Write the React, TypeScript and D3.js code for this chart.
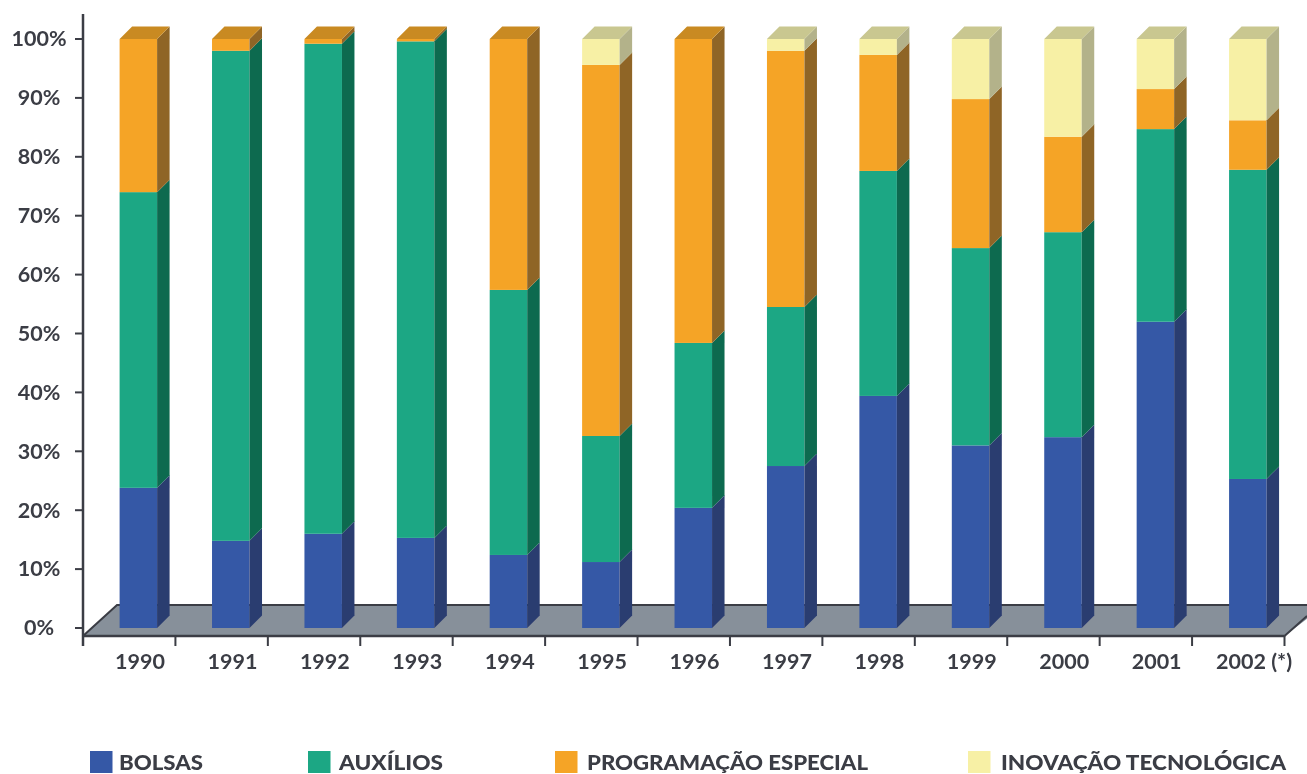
import React from "react";
import * as d3 from "d3";

const years = ["1990","1991","1992","1993","1994","1995","1996","1997","1998","1999","2000","2001","2002 (*)"];
const bolsas = [23.8,14.8,16.0,15.3,12.4,11.2,20.4,27.5,39.4,31.0,32.4,52.0,25.3];
const auxilios = [50.2,83.2,83.2,84.3,45.0,21.4,28.0,27.0,38.2,33.5,34.8,32.7,52.5];
const programacao = [26.0,2.0,0.8,0.4,42.6,63.0,51.6,43.5,19.7,25.3,16.2,6.8,8.4];
const inovacao = [0,0,0,0,0,4.4,0,2.0,2.7,10.2,16.6,8.5,13.8];
const seriesNames = ["BOLSAS","AUXÍLIOS","PROGRAMAÇÃO ESPECIAL","INOVAÇÃO TECNOLÓGICA"];
const seriesValues = [bolsas, auxilios, programacao, inovacao];
const front = ["#3658a6","#1ba784","#f5a427","#f7f0a5"];
const side = ["#2b3c70","#0f6b50","#8f6526","#b3b28a"];
const topc = ["#2b3c70","#0f6b50","#c98a22","#c9c790"];
const yTicks = [0,10,20,30,40,50,60,70,80,90,100];
const legendLayout = [[90,119,84],[308,339,104],[555,587,281],[968,1001,285]];

const W = 1307, H = 774, axisX = 83, axisRight = 1284.5, floorFront = 636, floorBack = 605, depth = 12.5;
const x = d3.scaleBand().domain(years).range([axisX, axisRight]);
const y = d3.scaleLinear().domain([0, 100]).range([628, 39]);
const barW = 37.5, barOff = 36.6;
const ink = "#3a3c44";
const font = "Lato, 'Open Sans', sans-serif";

export default function App() {
  const stacks = years.map((_, i) => {
    let acc = 0;
    return seriesValues.map((s, k) => {
      const y0 = acc; acc += s[i];
      return { k, y0, y1: acc, v: s[i] };
    });
  });
  return (
    <svg width={W} height={H} style={{ position: "absolute", left: 0, top: 0, background: "#fff" }}>
      <defs>
        <filter id="soft" x="-5%" y="-5%" width="110%" height="110%"><feGaussianBlur stdDeviation="0.65" /></filter>
      </defs>
      <g filter="url(#soft)">
        <path d={`M${axisX},${floorFront}L${axisX + 34},${floorBack}H${W + 5}V${floorBack + 10}L${axisRight},${floorFront}Z`} fill="#87909a" />
        <path d={`M${axisX},${floorFront}L${axisX + 34},${floorBack}H${W}`} fill="none" stroke={ink} strokeWidth={2} />
        <path d={`M${axisRight},${floorFront}L${W},${floorFront - 20}`} fill="none" stroke={ink} strokeWidth={2} />
        <path d={`M${axisX},14V${floorFront + 10}`} stroke={ink} strokeWidth={2.5} fill="none" />
        <path d={`M${axisX},${floorFront}H${axisRight}`} stroke={ink} strokeWidth={2.5} fill="none" />
        {yTicks.map(t => (
          <g key={t}>
            <line x1={axisX - 8} x2={axisX} y1={y(t)} y2={y(t)} stroke={ink} strokeWidth={2} />
            <text x={39} y={y(t)} dy="0.34em" textAnchor="middle" fontFamily={font} fontWeight={700} fontSize={21.5} fill={ink}>{t}%</text>
          </g>
        ))}
        {years.map(yr => (
          <line key={yr} x1={x(yr)! + x.bandwidth()} x2={x(yr)! + x.bandwidth()} y1={floorFront} y2={floorFront + 10} stroke={ink} strokeWidth={2} />
        ))}
        {years.map((yr, i) => {
          const bx = x(yr)! + barOff + (i > 3 ? 0.4 : 0);
          const segs = stacks[i].filter(s => s.v > 0);
          const last = segs[segs.length - 1];
          return (
            <g key={yr}>
              {segs.map(s => (
                <g key={s.k}>
                  <rect x={bx} y={y(s.y1)} width={barW} height={y(s.y0) - y(s.y1)} fill={front[s.k]} />
                  <path d={`M${bx + barW},${y(s.y0)}L${bx + barW + depth},${y(s.y0) - depth}V${y(s.y1) - depth}L${bx + barW},${y(s.y1)}Z`} fill={side[s.k]} />
                </g>
              ))}
              <path d={`M${bx},${y(100)}L${bx + depth},${y(100) - depth}H${bx + barW + depth}L${bx + barW},${y(100)}Z`} fill={topc[last.k]} />
            </g>
          );
        })}
        {years.map(yr => (
          <text key={yr} x={x(yr)! + (yr.length > 4 ? 62 : 57)} y={669} textAnchor="middle" fontFamily={font} fontWeight={700} fontSize={21.5} fill={ink}>{yr}</text>
        ))}
        {seriesNames.map((n, k) => (
          <g key={n}>
            <rect x={legendLayout[k][0]} y={751} width={22.5} height={22} fill={front[k]} />
            <text x={legendLayout[k][1]} y={769.5} fontFamily={font} fontWeight={900} fontSize={20} fill={ink}
              textLength={legendLayout[k][2]} lengthAdjust="spacingAndGlyphs">{n}</text>
          </g>
        ))}
      </g>
    </svg>
  );
}
